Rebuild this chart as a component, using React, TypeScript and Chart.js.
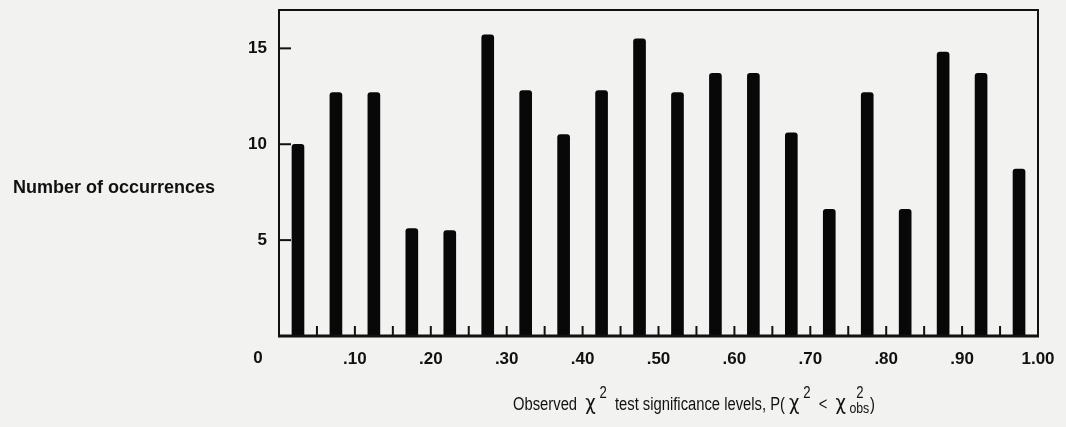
import React, { useEffect, useRef } from "react";
import Chart from "chart.js/auto";

const binCenters = [0.025, 0.075, 0.125, 0.175, 0.225, 0.275, 0.325, 0.375, 0.425, 0.475, 0.525, 0.575, 0.625, 0.675, 0.725, 0.775, 0.825, 0.875, 0.925, 0.975];
const occurrences = [10, 12.7, 12.7, 5.6, 5.5, 15.7, 12.8, 10.5, 12.8, 15.5, 12.7, 13.7, 13.7, 10.6, 6.6, 12.7, 6.6, 14.8, 13.7, 8.7];
const binEdges = [0.05, 0.1, 0.15, 0.2, 0.25, 0.3, 0.35, 0.4, 0.45, 0.5, 0.55, 0.6, 0.65, 0.7, 0.75, 0.8, 0.85, 0.9, 0.95];
const xTickValues = [0, 0.1, 0.2, 0.3, 0.4, 0.5, 0.6, 0.7, 0.8, 0.9, 1.0];
const xTickLabels = ["", ".10", ".20", ".30", ".40", ".50", ".60", ".70", ".80", ".90", "1.00"];
const yTickValues = [5, 10, 15];
const yTickLabels = ["5", "10", "15"];
const yTitle = "Number of occurrences";
const originLabel = "0";

const INK = "#111111";
const BG = "#f2f2f0";
const TICK_FONT = { family: "'Liberation Sans', Arial, sans-serif", size: 17, weight: "bold" as const };

const framePlugin = {
  id: "frame",
  afterDatasetsDraw(chart: any) {
    const { ctx, chartArea } = chart;
    const { left, right, top, bottom } = chartArea;
    const xs = chart.scales.x;
    const ys = chart.scales.y;
    ctx.save();
    ctx.strokeStyle = INK;
    ctx.lineCap = "butt";
    ctx.lineWidth = 2;
    ctx.beginPath();
    ctx.moveTo(left, bottom);
    ctx.lineTo(left, top);
    ctx.lineTo(right, top);
    ctx.lineTo(right, bottom);
    ctx.stroke();
    ctx.lineWidth = 3;
    ctx.beginPath();
    ctx.moveTo(left - 1, bottom);
    ctx.lineTo(right + 1, bottom);
    ctx.stroke();
    ctx.lineWidth = 2;
    yTickValues.forEach((v) => {
      const y = ys.getPixelForValue(v);
      ctx.beginPath();
      ctx.moveTo(left, y);
      ctx.lineTo(left + 12, y);
      ctx.stroke();
    });
    binEdges.forEach((v) => {
      const x = xs.getPixelForValue(v);
      ctx.beginPath();
      ctx.moveTo(x, bottom);
      ctx.lineTo(x, bottom - 10);
      ctx.stroke();
    });
    ctx.fillStyle = INK;
    ctx.font = "bold 17px 'Liberation Sans', Arial, sans-serif";
    ctx.textAlign = "center";
    ctx.textBaseline = "middle";
    ctx.fillText(originLabel, left - 21, bottom + 22);
    ctx.font = "bold 18px 'Liberation Sans', Arial, sans-serif";
    ctx.textAlign = "left";
    ctx.fillText(yTitle, 13, 188);
    const mainF = "18px 'Liberation Sans Narrow', 'Liberation Sans', Arial, sans-serif";
    const chiF = "22px 'DejaVu Sans', 'Liberation Sans', sans-serif";
    const supF = "16px 'Liberation Sans', Arial, sans-serif";
    const subF = "15px 'Liberation Sans', Arial, sans-serif";
    type Piece = { t: string; f: string; dy: number; stack?: boolean };
    const pieces: Piece[] = [
      { t: "Observed  ", f: mainF, dy: 0 },
      { t: "χ", f: chiF, dy: 0 },
      { t: " 2", f: supF, dy: -12 },
      { t: "  test significance levels, P( ", f: mainF, dy: 0 },
      { t: "χ", f: chiF, dy: 0 },
      { t: " 2", f: supF, dy: -12 },
      { t: "  <  ", f: mainF, dy: 0 },
      { t: "χ", f: chiF, dy: 0 },
      { t: " obs", f: subF, dy: 3, stack: true },
      { t: ")", f: mainF, dy: 0 },
    ];
    const widths = pieces.map((p) => {
      ctx.font = p.f;
      return ctx.measureText(p.t).width + (p.stack ? 1 : 0);
    });
    const total = widths.reduce((a, b) => a + b, 0);
    const target = 362;
    const sx = target / total;
    const startX = 694 - target / 2;
    const baseline = 410;
    ctx.textBaseline = "alphabetic";
    ctx.textAlign = "left";
    ctx.save();
    ctx.translate(startX, 0);
    ctx.scale(sx, 1);
    let cx = 0;
    pieces.forEach((p, i) => {
      ctx.font = p.f;
      ctx.fillText(p.t, cx, baseline + p.dy);
      if (p.stack) {
        ctx.font = supF;
        const w2 = ctx.measureText("2").width;
        const ws = ctx.measureText(" ").width;
        ctx.fillText("2", cx + ws + (widths[i] - ws - w2) / 2, baseline - 12);
      }
      cx += widths[i];
    });
    ctx.restore();
    ctx.restore();
  },
};

export default function App() {
  const ref = useRef<HTMLCanvasElement | null>(null);
  useEffect(() => {
    if (!ref.current) return;
    const chart = new Chart(ref.current, {
      type: "bar",
      data: {
        datasets: [
          {
            data: binCenters.map((x, i) => ({ x, y: occurrences[i] })),
            backgroundColor: "#080808",
            barThickness: 12,
            borderRadius: 3,
            borderSkipped: "start",
          } as any,
        ],
      },
      options: {
        animation: false,
        responsive: false,
        maintainAspectRatio: false,
        layout: { padding: { top: 10, right: 28, left: 0, bottom: 0 } },
        plugins: { legend: { display: false }, tooltip: { enabled: false }, title: { display: false } },
        scales: {
          x: {
            type: "linear",
            min: 0,
            max: 1,
            offset: false,
            grid: { display: false, drawTicks: false },
            border: { display: false },
            afterBuildTicks: (s: any) => {
              s.ticks = xTickValues.map((v) => ({ value: v }));
            },
            afterFit: (s: any) => {
              s.height = 91;
              s.paddingLeft = 0;
              s.paddingRight = 0;
            },
            ticks: {
              autoSkip: false,
              maxRotation: 0,
              padding: 13,
              color: INK,
              font: TICK_FONT,
              callback: (_v: any, i: number) => xTickLabels[i],
            },
          },
          y: {
            type: "linear",
            min: 0,
            max: 17,
            grid: { display: false, drawTicks: false },
            border: { display: false },
            afterBuildTicks: (s: any) => {
              s.ticks = yTickValues.map((v) => ({ value: v }));
            },
            afterFit: (s: any) => {
              s.width = 279;
              s.paddingTop = 0;
              s.paddingBottom = 0;
            },
            ticks: {
              padding: 12,
              color: INK,
              font: TICK_FONT,
              callback: (_v: any, i: number) => yTickLabels[i],
            },
          },
        },
      } as any,
      plugins: [framePlugin],
    });
    return () => chart.destroy();
  }, []);
  return (
    <div style={{ position: "fixed", left: 0, top: 0, width: 1066, height: 427, background: BG }}>
      <canvas ref={ref} width={1066} height={427} style={{ display: "block", width: 1066, height: 427 }} />
    </div>
  );
}
